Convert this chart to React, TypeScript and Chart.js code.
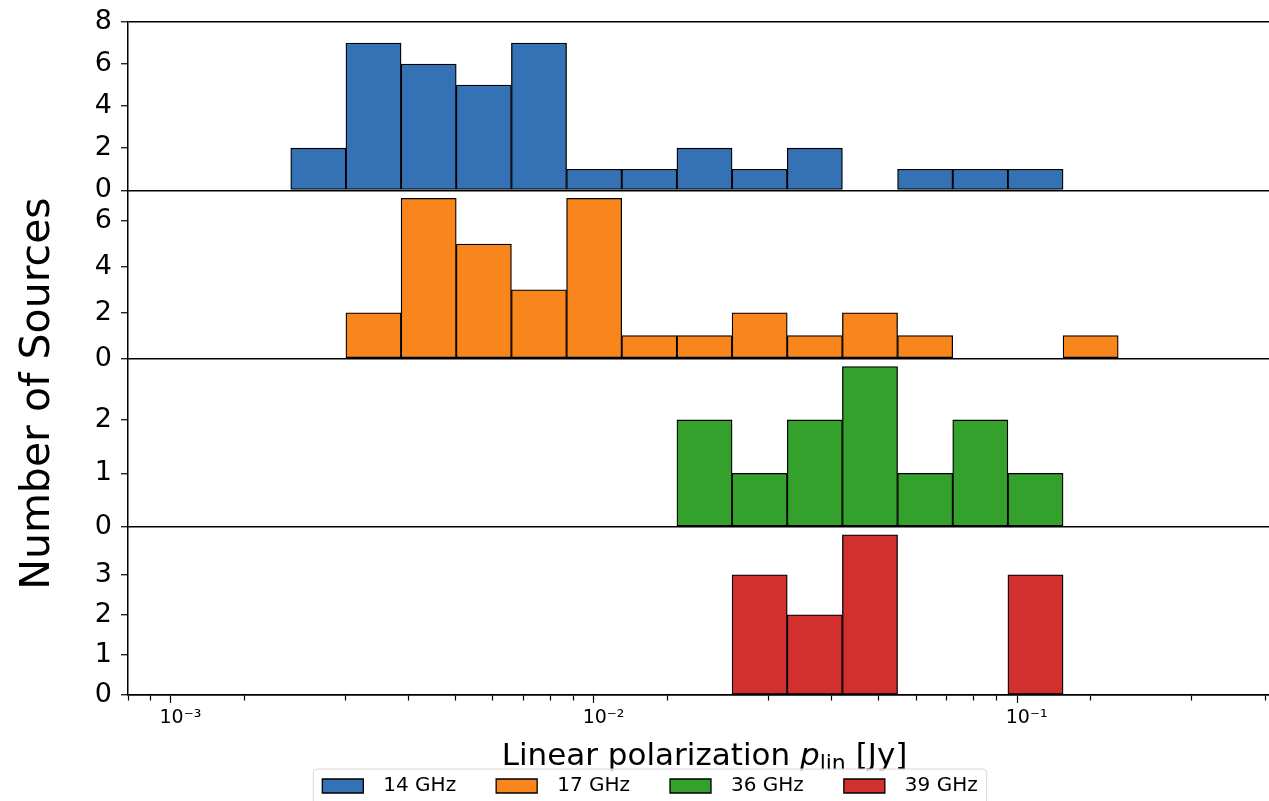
import { useEffect, useRef } from 'react';
import { Chart, registerables } from 'chart.js';

Chart.register(...registerables);

// Log-spaced histogram bin edges (Jy)
const binEdges = [
  0.001, 0.00135012, 0.00182282, 0.00246102, 0.00332267, 0.00448600, 0.00605662,
  0.00817716, 0.0110401, 0.0149055, 0.0201241, 0.0271700, 0.0366827, 0.0495259,
  0.0668668, 0.0902781, 0.121886, 0.164561, 0.222176, 0.3,
];

// Counts per bin for each frequency
const counts14 = [0, 0, 2, 7, 6, 5, 7, 1, 1, 2, 1, 2, 0, 1, 1, 1, 0, 0, 0];
const counts17 = [0, 0, 0, 2, 7, 5, 3, 7, 1, 1, 2, 1, 2, 1, 0, 0, 1, 0, 0];
const counts36 = [0, 0, 0, 0, 0, 0, 0, 0, 0, 2, 1, 2, 3, 1, 2, 1, 0, 0, 0];
const counts39 = [0, 0, 0, 0, 0, 0, 0, 0, 0, 0, 3, 2, 4, 0, 0, 3, 0, 0, 0];

const seriesLabels = ['14 GHz', '17 GHz', '36 GHz', '39 GHz'];
const seriesColors = ['#3571b5', '#f8861c', '#33a12c', '#d22f2f'];

// Per-panel y limits and tick values (top panel first)
const panelMax = [8, 7.35, 3.15, 4.2];
const panelTicks = [
  [0, 2, 4, 6, 8],
  [0, 2, 4, 6],
  [0, 1, 2],
  [0, 1, 2, 3],
];

// x axis
const xMin = 7.5183e-4;
const xMax = 0.39903;
const xTickValues = [
  0.0008, 0.0009,
  0.001, 0.002, 0.003, 0.004, 0.005, 0.006, 0.007, 0.008, 0.009,
  0.01, 0.02, 0.03, 0.04, 0.05, 0.06, 0.07, 0.08, 0.09,
  0.1, 0.2, 0.3,
];
const xMajorTicks = [0.001, 0.01, 0.1];
const xMajorLabels = ['10⁻³', '10⁻²', '10⁻¹'];

const xTitleMain = 'Linear polarization ';
const xTitleVar = 'p';
const xTitleSub = 'lin';
const xTitleUnit = ' [Jy]';
const yTitle = 'Number of Sources';

const FONT = "'DejaVu Sans', sans-serif";

const figurePlugin = {
  id: 'figureDecor',
  beforeDraw(chart: any) {
    const { ctx, chartArea } = chart;
    ctx.save();
    ctx.fillStyle = '#000';
    ctx.textBaseline = 'alphabetic';
    ctx.textAlign = 'left';

    // x title with italic variable and subscript
    const parts = [
      { text: xTitleMain, font: `31px ${FONT}`, dy: 0 },
      { text: xTitleVar, font: `italic 31px ${FONT}`, dy: 0 },
      { text: xTitleSub, font: `22px ${FONT}`, dy: 5 },
      { text: xTitleUnit, font: `31px ${FONT}`, dy: 0 },
    ];
    let total = 0;
    const widths = parts.map((p) => {
      ctx.font = p.font;
      const w = ctx.measureText(p.text).width;
      total += w;
      return w;
    });
    let x = (chartArea.left + chartArea.right) / 2 - total / 2;
    const baseY = chartArea.bottom + 70;
    parts.forEach((p, i) => {
      ctx.font = p.font;
      ctx.fillText(p.text, x, baseY + p.dy);
      x += widths[i];
    });

    // y title
    ctx.save();
    ctx.translate(49, (chartArea.top + chartArea.bottom) / 2 + 35);
    ctx.rotate(-Math.PI / 2);
    ctx.textAlign = 'center';
    ctx.font = `41px ${FONT}`;
    ctx.fillText(yTitle, 0, 0);
    ctx.restore();

    // legend frame
    const lg = chart.legend;
    if (lg && lg.legendHitBoxes && lg.legendHitBoxes.length) {
      const hb = lg.legendHitBoxes;
      const first = hb[0];
      const last = hb[hb.length - 1];
      const l = first.left - 9;
      const r = last.left + last.width + 9;
      const t = first.top + first.height / 2 - 17;
      const h = 50;
      const rad = 4;
      ctx.beginPath();
      ctx.moveTo(l + rad, t);
      ctx.lineTo(r - rad, t);
      ctx.quadraticCurveTo(r, t, r, t + rad);
      ctx.lineTo(r, t + h);
      ctx.lineTo(l, t + h);
      ctx.lineTo(l, t + rad);
      ctx.quadraticCurveTo(l, t, l + rad, t);
      ctx.closePath();
      ctx.fillStyle = 'rgba(255,255,255,0.8)';
      ctx.fill();
      ctx.strokeStyle = '#d6d6d6';
      ctx.lineWidth = 1;
      ctx.stroke();
    }
    ctx.restore();
  },
};

export default function App() {
  const ref = useRef<HTMLCanvasElement>(null);

  useEffect(() => {
    if (!ref.current) return;
    const centers = counts14.map((_, i) => Math.sqrt(binEdges[i] * binEdges[i + 1]));
    const allCounts = [counts14, counts17, counts36, counts39];

    const datasets: any[] = allCounts.map((c, p) => ({
      type: 'bar',
      label: seriesLabels[p],
      data: c.map((v, i) => ({ x: centers[i], y: v })),
      xAxisID: 'xb',
      yAxisID: 'y' + (p + 1),
      backgroundColor: seriesColors[p],
      borderColor: '#000',
      borderWidth: 1.3,
      borderSkipped: false,
      grouped: false,
      barPercentage: 1,
      categoryPercentage: 1,
    }));

    // Stacked y axes: Chart.js places the last-defined axis at the top,
    // so define them from the bottom panel upward.
    const yScales: any = {};
    for (let p = panelMax.length - 1; p >= 0; p--) {
      const m = panelMax[p];
      yScales['y' + (p + 1)] = {
        type: 'linear',
        position: 'left',
        stack: 'panels',
        stackWeight: 1,
        min: 0,
        max: m,
        afterBuildTicks: (s: any) => {
          s.ticks = panelTicks[p].map((v) => ({ value: v }));
        },
        afterFit: (s: any) => {
          s.width = 109;
        },
        ticks: {
          autoSkip: false,
          color: '#000',
          padding: 9,
          font: { family: FONT, size: 27, lineHeight: 0.95 },
        },
        grid: {
          drawOnChartArea: true,
          color: (c: any) =>
            c.tick && (c.tick.value === 0 || (p === 0 && c.tick.value === m))
              ? '#000'
              : 'rgba(0,0,0,0)',
          lineWidth: 1.5,
          tickLength: 7,
          tickColor: '#000',
          tickWidth: 1.2,
        },
        border: { display: true, color: '#000', width: 1.5 },
      };
    }

    const chart = new Chart(ref.current, {
      type: 'bar',
      data: { datasets },
      options: {
        responsive: false,
        animation: false,
        layout: { padding: { top: 22, right: 19, left: 19, bottom: 0 } },
        scales: {
          x: {
            type: 'logarithmic',
            position: 'bottom',
            min: xMin,
            max: xMax,
            afterBuildTicks: (s: any) => {
              s.ticks = xTickValues.map((v) => ({ value: v, major: false }));
            },
            afterFit: (s: any) => {
              s.height = 41;
            },
            ticks: {
              autoSkip: false,
              maxRotation: 0,
              minRotation: 0,
              padding: 4,
              color: '#000',
              font: { family: FONT, size: 19 },
              callback: (v: any) => {
                const idx = xMajorTicks.findIndex((t) => Math.abs(t - Number(v)) < t * 1e-6);
                return idx >= 0 ? xMajorLabels[idx] : '';
              },
            },
            grid: {
              drawOnChartArea: false,
              tickLength: 8,
              tickColor: '#000',
              tickWidth: 1.2,
              tickBorderDash: (c: any) => {
                const v = c.tick ? c.tick.value : 0;
                const isMajor = xMajorTicks.some((t) => Math.abs(t - v) < t * 1e-6);
                return isMajor ? [] : [5, 100];
              },
            },
            border: { display: true, color: '#000', width: 1.5 },
          },
          xb: {
            type: 'logarithmic',
            display: false,
            min: xMin,
            max: xMax,
            afterBuildTicks: (s: any) => {
              s.ticks = centers.map((v) => ({ value: v }));
            },
          },
          ...yScales,
        },
        plugins: {
          legend: {
            position: 'bottom',
            labels: {
              color: '#000',
              font: { family: FONT, size: 20 },
              boxWidth: 41,
              boxHeight: 14,
              padding: 40,
              generateLabels: (ch: any) =>
                (Chart.defaults.plugins.legend.labels.generateLabels as any)(ch).map((l: any) => ({
                  ...l,
                  text: '\u2002' + l.text,
                })),
            },
          },
          tooltip: { enabled: false },
        },
      } as any,
      plugins: [figurePlugin],
    });

    return () => {
      chart.destroy();
    };
  }, []);

  return (
    <div
      style={{
        position: 'absolute',
        left: 0,
        top: 0,
        width: 1269,
        height: 801,
        overflow: 'hidden',
        background: '#fff',
      }}
    >
      <canvas ref={ref} width={1300} height={806} style={{ display: 'block' }} />
    </div>
  );
}
